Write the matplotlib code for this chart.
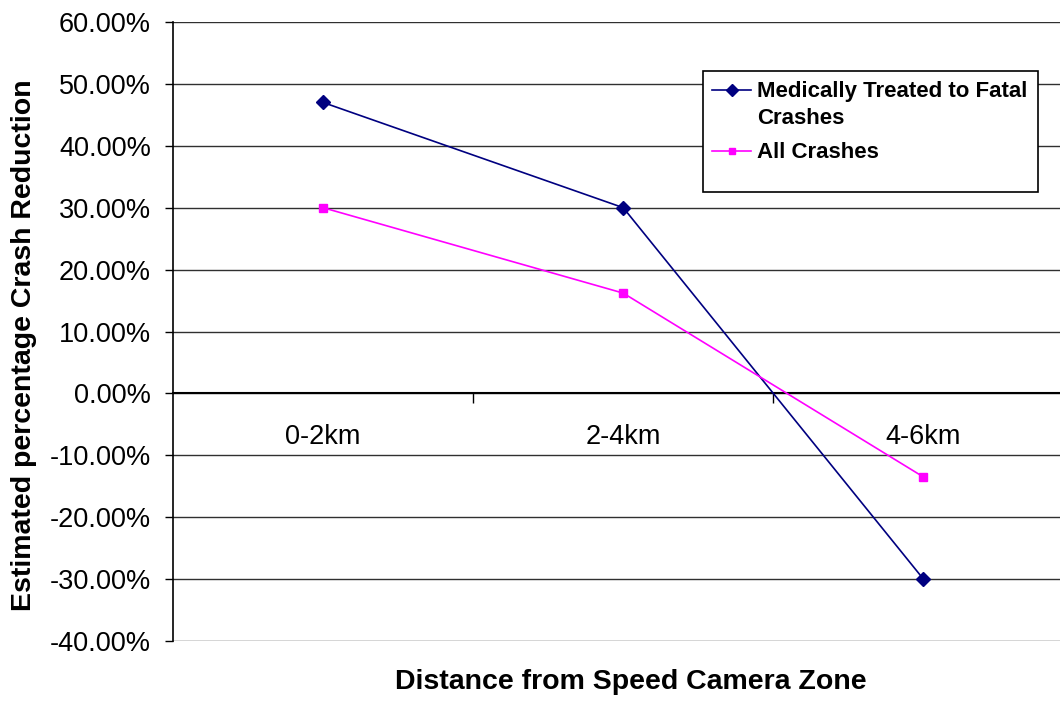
import matplotlib
matplotlib.use("Agg")
import matplotlib.pyplot as plt
from matplotlib.lines import Line2D
from matplotlib.patches import Rectangle
from matplotlib.ticker import FuncFormatter, FixedLocator

plt.rcParams['font.family'] = ['Liberation Sans', 'DejaVu Sans']

distances = ["0-2km", "2-4km", "4-6km"]
treated_fatal = [47.0, 30.0, -30.0]
all_crashes = [30.0, 16.2, -13.5]
series_names = ["Medically Treated to Fatal\nCrashes", "All Crashes"]
series_colors = ["#000080", "#FF00FF"]
series_markers = ["D", "s"]

W, H = 1060, 702
fig = plt.figure(figsize=(W / 100, H / 100), dpi=100)
# plot area runs slightly past the right edge of the canvas
ax = fig.add_axes([173 / W, 61 / H, 900.5 / W, 619 / H])

x = list(range(len(distances)))
for vals, name, col, mk in zip([treated_fatal, all_crashes], series_names,
                               series_colors, series_markers):
    ax.plot(x, vals, color=col, lw=1.2, marker=mk,
            ms=7 if mk == "D" else 6, label=name, zorder=4)

ax.set_xlim(-0.5, 2.5)
ax.set_ylim(-40, 60)
ax.set_yticks(range(-40, 61, 10))
ax.yaxis.set_major_formatter(FuncFormatter(lambda v, p: f"{v:.2f}%"))
ax.tick_params(axis="y", labelsize=19.5, length=6, width=1, pad=10)
ax.grid(axis="y", color="#303030", lw=1)
ax.set_axisbelow(True)

# category axis crosses at zero
for s in ["top", "right"]:
    ax.spines[s].set_visible(False)
ax.spines["left"].set_linewidth(1.2)
ax.spines["bottom"].set_position(("data", 0))
ax.spines["bottom"].set_linewidth(1.5)
ax.xaxis.set_major_locator(FixedLocator([0.5, 1.5]))
ax.xaxis.set_major_formatter(FuncFormatter(lambda v, p: ""))
ax.tick_params(axis="x", which="major", length=7, width=1, direction="out")
ax.set_xticks(x, minor=True)
ax.set_xticklabels(distances, minor=True)
ax.tick_params(axis="x", which="minor", length=0, labelsize=19.5, pad=22)

fig.text(24 / W, 1 - 345 / H, "Estimated percentage Crash Reduction",
         rotation=90, ha="center", va="center", fontsize=20.5,
         fontweight="bold")
fig.text(631 / W, 1 - 682 / H, "Distance from Speed Camera Zone",
         ha="center", va="center", fontsize=20.5, fontweight="bold")

# legend box, drawn by hand so the marker sits beside the first text line
frame = Rectangle((703 / W, 1 - 192 / H), 335 / W, 121 / H,
                  transform=fig.transFigure, facecolor="white",
                  edgecolor="black", lw=1.2, zorder=5)
fig.patches.append(frame)
for name, col, mk, yk in zip(series_names, series_colors, series_markers,
                             [90, 151]):
    yf = 1 - yk / H
    fig.lines.append(Line2D([712 / W, 751 / W], [yf, yf],
                            transform=fig.transFigure, color=col, lw=1.2,
                            zorder=6))
    fig.lines.append(Line2D([731.5 / W], [yf], transform=fig.transFigure,
                            color=col, marker=mk, ms=6 if mk == "D" else 5,
                            zorder=7))
    fig.text(757 / W, 1 - (yk - 9) / H, name, ha="left", va="top",
             fontsize=16, fontweight="bold", linespacing=1.35, zorder=7)

fig.savefig("out.png", dpi=100)
